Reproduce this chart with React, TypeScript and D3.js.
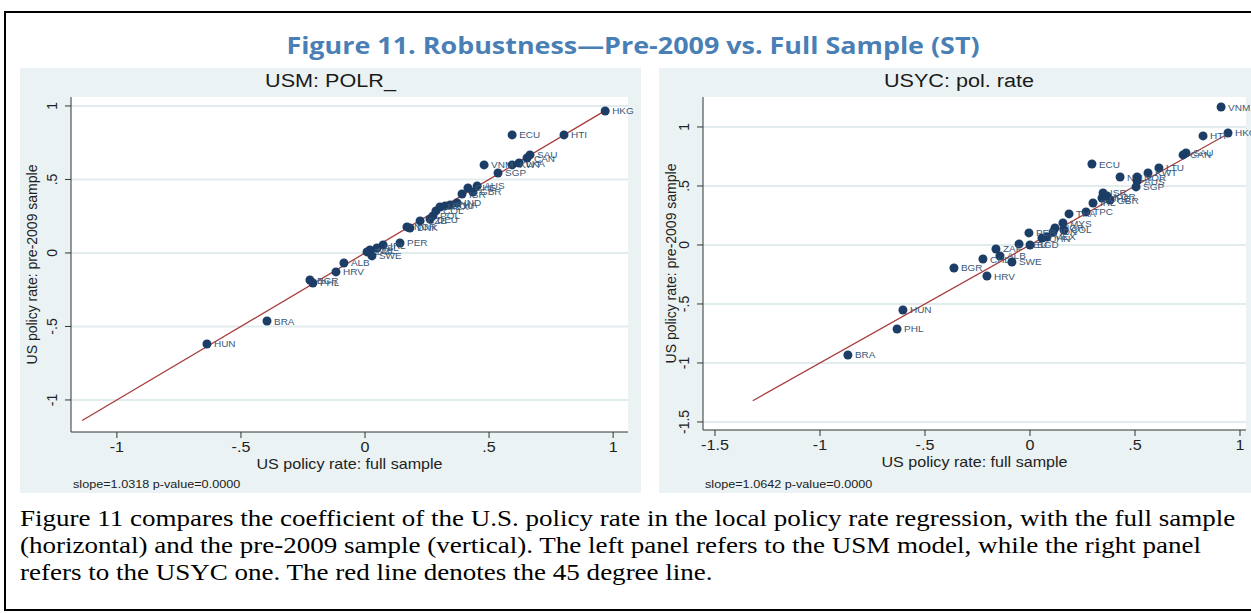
import React from "react";
import * as d3 from "d3";

// ---------- DATA ----------
const leftNames = ["HKG","HTI","ECU","SAU","CAN","LKA","KWT","VNM","SGP","AUS","GBR","CHE","ISR","IND","THA","ROU","MEX","COL","POL","DEU","CZE","NOR","DNK","PER","IRL","ISL","NZL","ZAF","SWE","ALB","HRV","BGR","PHL","BRA","HUN"];
const leftX = [0.968,0.802,0.593,0.665,0.653,0.621,0.593,0.480,0.536,0.452,0.435,0.415,0.391,0.371,0.343,0.323,0.302,0.286,0.274,0.262,0.222,0.169,0.181,0.141,0.073,0.048,0.020,0.008,0.028,-0.085,-0.117,-0.222,-0.210,-0.395,-0.637];
const leftY = [0.966,0.803,0.803,0.667,0.646,0.612,0.599,0.599,0.544,0.456,0.415,0.442,0.401,0.340,0.327,0.320,0.313,0.286,0.252,0.231,0.218,0.177,0.170,0.068,0.054,0.034,0.020,0.007,-0.020,-0.068,-0.129,-0.184,-0.204,-0.463,-0.619];

const rightNames = ["VNM","HKG","HTI","SAU","CAN","ECU","LTU","KWT","NZL","NOR","AUS","SGP","ISR","KOR","GBR","CHE","IRL","TPC","THA","MYS","NGR","COL","IDN","MEX","CHN","PER","DEU","BGD","ZAF","ALB","CHL","SWE","BGR","HRV","HUN","PHL","BRA"];
const rightX = [0.910,0.943,0.824,0.743,0.729,0.295,0.614,0.562,0.429,0.510,0.510,0.505,0.348,0.367,0.381,0.343,0.300,0.267,0.186,0.157,0.119,0.162,0.110,0.081,0.057,-0.005,-0.052,0.000,-0.162,-0.143,-0.224,-0.086,-0.362,-0.205,-0.605,-0.633,-0.867];
const rightY = [1.169,0.949,0.924,0.780,0.763,0.686,0.653,0.610,0.576,0.576,0.542,0.492,0.441,0.415,0.381,0.398,0.356,0.280,0.263,0.186,0.144,0.127,0.110,0.068,0.059,0.102,0.008,0.000,-0.034,-0.093,-0.119,-0.144,-0.195,-0.263,-0.551,-0.712,-0.932];

const leftXTicks = [-1, -0.5, 0, 0.5, 1];
const leftYTicks = [-1, -0.5, 0, 0.5, 1];
const rightXTicks = [-1.5, -1, -0.5, 0, 0.5, 1];
const rightYTicks = [-1.5, -1, -0.5, 0, 0.5, 1];

const leftLineRange = [-1.14, 0.968];
const rightLineRange = [-1.32, 0.943];

const figTitle = "Figure 11. Robustness\u2014Pre-2009 vs. Full Sample (ST)";
const leftTitle = "USM: POLR_";
const rightTitle = "USYC: pol. rate";
const xAxisTitle = "US policy rate: full sample";
const yAxisTitle = "US policy rate: pre-2009 sample";
const leftNote = "slope=1.0318 p-value=0.0000";
const rightNote = "slope=1.0642 p-value=0.0000";
const captionLines = [
  "Figure 11 compares the coefficient of the U.S. policy rate in the local policy rate regression, with the full sample",
  "(horizontal) and the pre-2009 sample (vertical). The left panel refers to the USM model, while the right panel",
  "refers to the USYC one. The red line denotes the 45 degree line.",
];

const fmt = (v: number) => {
  if (v === 0) return "0";
  const s = String(v);
  return s.replace(/^(-?)0\./, "$1.");
};

const SX = 1.15; // horizontal stretch of the reference rendering
const NAVY = "#1b3d66";
const FONT = "Liberation Sans, Arial, sans-serif";

type TProps = {
  x: number; y: number; size: number; anchor?: string; rot?: boolean;
  family?: string; weight?: number; fill?: string; sx?: number; children: React.ReactNode;
};
function T({ x, y, size, anchor = "start", rot = false, family = FONT, weight = 400, fill = "#222", sx = SX, children }: TProps) {
  return (
    <text
      transform={`translate(${x},${y}) scale(${sx},1)${rot ? " rotate(-90)" : ""}`}
      textAnchor={anchor as any}
      fontFamily={family}
      fontWeight={weight}
      fontSize={size}
      fill={fill}
    >
      {children}
    </text>
  );
}

type PanelProps = {
  bg: [number, number, number, number];
  plot: [number, number, number, number];
  xDom: [number, number];
  yDom: [number, number];
  names: string[];
  xs: number[];
  ys: number[];
  xTicks: number[];
  yTicks: number[];
  line: number[];
  title: string;
  note: string;
};

function Panel(p: PanelProps) {
  const [bx, by, bw, bh] = p.bg;
  const [px0, py0, px1, py1] = p.plot;
  const x = d3.scaleLinear().domain(p.xDom).range([px0, px1]);
  const y = d3.scaleLinear().domain(p.yDom).range([py1, py0]);
  const cx = (bx + bx + bw) / 2;
  const lineGen = d3.line<number>().x((v) => x(v)).y((v) => y(v));
  return (
    <g>
      <rect x={bx} y={by} width={bw} height={bh} fill="#eaf2f3" />
      <rect x={px0} y={py0} width={px1 - px0} height={py1 - py0} fill="#ffffff" />
      <T x={cx} y={by + 19} size={18.8} anchor="middle" fill="#1a1a1a">{p.title}</T>
      {p.yTicks.map((t) => (
        <line key={"g" + t} x1={px0} x2={px1} y1={y(t)} y2={y(t)} stroke="#e2ecef" strokeWidth={2} />
      ))}
      <line x1={px0} x2={px0} y1={py0} y2={py1} stroke="#333" strokeWidth={1} />
      <line x1={px0} x2={px1} y1={py1} y2={py1} stroke="#333" strokeWidth={1} />
      {p.yTicks.map((t) => (
        <g key={"yt" + t}>
          <line x1={px0 - 6} x2={px0} y1={y(t)} y2={y(t)} stroke="#333" />
          <T x={px0 - 14} y={y(t)} size={14} anchor="middle" rot sx={1.05}>{fmt(t)}</T>
        </g>
      ))}
      {p.xTicks.map((t) => (
        <g key={"xt" + t}>
          <line x1={x(t)} x2={x(t)} y1={py1} y2={py1 + 6} stroke="#333" />
          <T x={x(t)} y={py1 + 20} size={14} anchor="middle">{fmt(t)}</T>
        </g>
      ))}
      <T x={(px0 + px1) / 2} y={py1 + 37} size={14} anchor="middle">{xAxisTitle}</T>
      <T x={bx + 17} y={(py0 + py1) / 2} size={14} anchor="middle" rot sx={1.05}>{yAxisTitle}</T>
      <T x={px0 + 2} y={by + bh - 5} size={11}>{p.note}</T>
      <path d={lineGen(p.line) || ""} stroke="#a83c3c" strokeWidth={1.3} fill="none" />
      {p.names.map((n, i) => (
        <g key={"p" + i}>
          <circle cx={x(p.xs[i])} cy={y(p.ys[i])} r={4.5} fill={NAVY} />
          <T x={x(p.xs[i]) + 7} y={y(p.ys[i]) + 3.5} size={9.5} sx={1.05} fill="#3a5878">{n}</T>
        </g>
      ))}
    </g>
  );
}

export default function App() {
  const W = 1251, H = 613;
  return (
    <svg width={W} height={H} style={{ position: "absolute", left: 0, top: 0, background: "#fff" }}>
      <rect x={5} y={12} width={1260} height={598} fill="#fff" stroke="#000" strokeWidth={2} />
      <T x={633} y={54} size={23.4} anchor="middle" family="Open Sans, Noto Sans, sans-serif" weight={700} fill="#4a7fb5">{figTitle}</T>
      <Panel
        bg={[20, 68, 621, 425]}
        plot={[71, 97, 628, 432]}
        xDom={[-1.185, 1.06]}
        yDom={[-1.218, 1.061]}
        names={leftNames} xs={leftX} ys={leftY}
        xTicks={leftXTicks} yTicks={leftYTicks}
        line={leftLineRange}
        title={leftTitle} note={leftNote}
      />
      <Panel
        bg={[659, 68, 600, 425]}
        plot={[703, 97, 1246, 430]}
        xDom={[-1.557, 1.0286]}
        yDom={[-1.568, 1.254]}
        names={rightNames} xs={rightX} ys={rightY}
        xTicks={rightXTicks} yTicks={rightYTicks}
        line={rightLineRange}
        title={rightTitle} note={rightNote}
      />
      {captionLines.map((l, i) => (
        <T key={i} x={20} y={526 + i * 27} size={23.5} family="Liberation Serif, Times New Roman, serif" fill="#000">{l}</T>
      ))}
    </svg>
  );
}
